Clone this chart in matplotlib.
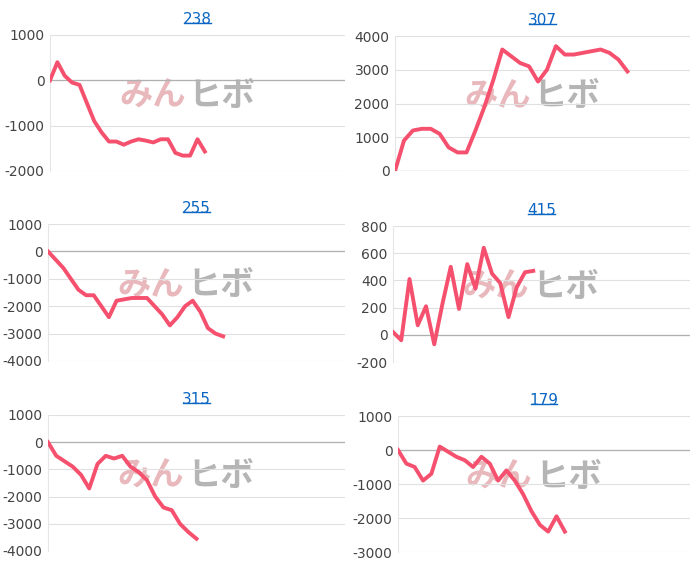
import matplotlib.pyplot as plt

plt.rcParams["axes.unicode_minus"] = False

# balance curves per machine
titles = ["238", "307", "255", "415", "315", "179"]
s238 = [0, 400, 100, -50, -100, -500, -900, -1150, -1350, -1350, -1420, -1350, -1300,
        -1330, -1370, -1300, -1300, -1600, -1660, -1660, -1300, -1570]
s307 = [0, 900, 1200, 1250, 1250, 1100, 700, 550, 550, 1200, 1900, 2700, 3600, 3400,
        3200, 3100, 2650, 3000, 3700, 3450, 3450, 3500, 3550, 3600, 3500, 3300, 2950]
s255 = [0, -300, -600, -1000, -1400, -1600, -1600, -2000, -2400, -1800, -1750, -1700,
        -1700, -1700, -2000, -2300, -2700, -2400, -2000, -1800, -2200, -2800, -3000, -3100]
s415 = [20, -40, 410, 70, 210, -70, 230, 500, 190, 520, 340, 640, 450, 380, 130, 350, 460, 470]
s315 = [0, -500, -700, -900, -1200, -1700, -800, -500, -600, -500, -900, -1100, -1400,
        -2000, -2400, -2500, -3000, -3300, -3550]
s179 = [0, -400, -500, -900, -700, 100, -50, -200, -300, -500, -200, -400, -900, -600,
        -900, -1300, -1800, -2200, -2400, -1950, -2400]
series = [s238, s307, s255, s415, s315, s179]
yranges = [(-2000, 1000, 1000), (0, 4000, 1000), (-4000, 1000, 1000),
           (-200, 800, 200), (-4000, 1000, 1000), (-3000, 1000, 1000)]
xmax = [40, 33, 39, 36, 36, 35]

# axes boxes in pixels: left, right, top, bottom
boxes = [(50, 345, 35, 171), (395, 690, 36, 171), (48, 345, 224, 361),
         (393, 690, 226, 362), (48, 345, 415, 551), (398, 690, 416, 552)]

W, H = 700, 570
fig = plt.figure(figsize=(7, 5.7), dpi=100)

for i in range(6):
    l, r, t, b = boxes[i]
    ax = fig.add_axes([l / W, 1 - b / H, (r - l) / W, (b - t) / H])
    lo, hi, step = yranges[i]
    ax.set_ylim(lo, hi)
    ax.set_xlim(0, xmax[i])
    ax.set_yticks(range(lo, hi + 1, step))
    ax.set_xticks([])
    ax.grid(axis="y", color="#e0e0e0", lw=0.8)
    ax.axhline(0, color="#b0b0b0", lw=0.9, zorder=1)
    for sp in ["top", "right", "bottom"]:
        ax.spines[sp].set_visible(False)
    ax.spines["left"].set_color("#e6e6e6")
    ax.tick_params(axis="y", length=0, labelsize=10, colors="#444444", pad=4)
    ax.set_axisbelow(True)
    # watermark
    ax.text(0.46, 0.55, "みん", transform=ax.transAxes, ha="right", va="center",
            fontsize=24, fontweight="bold", style="italic", color="#e8b8bc",
            family=["Noto Sans CJK JP", "DejaVu Sans"], zorder=0)
    ax.text(0.47, 0.55, "ヒボ", transform=ax.transAxes, ha="left", va="center",
            fontsize=24, fontweight="bold", style="italic", color="#b5b5b5",
            family=["Noto Sans CJK JP", "DejaVu Sans"], zorder=0)
    ax.plot(range(len(series[i])), series[i], color="#f5506e", lw=2.8, zorder=3)
    ax.set_title(titles[i], color="#0a66c2", fontsize=11, pad=8)

# underline the titles
fig.canvas.draw()
for ax in fig.axes:
    bb = ax.title.get_window_extent().transformed(fig.transFigure.inverted())
    fig.add_artist(plt.Line2D([bb.x0 + 0.002, bb.x1 - 0.002], [bb.y0 + 0.006, bb.y0 + 0.006],
                              color="#0a66c2", lw=1, transform=fig.transFigure))

fig.savefig("out.png", dpi=100)
